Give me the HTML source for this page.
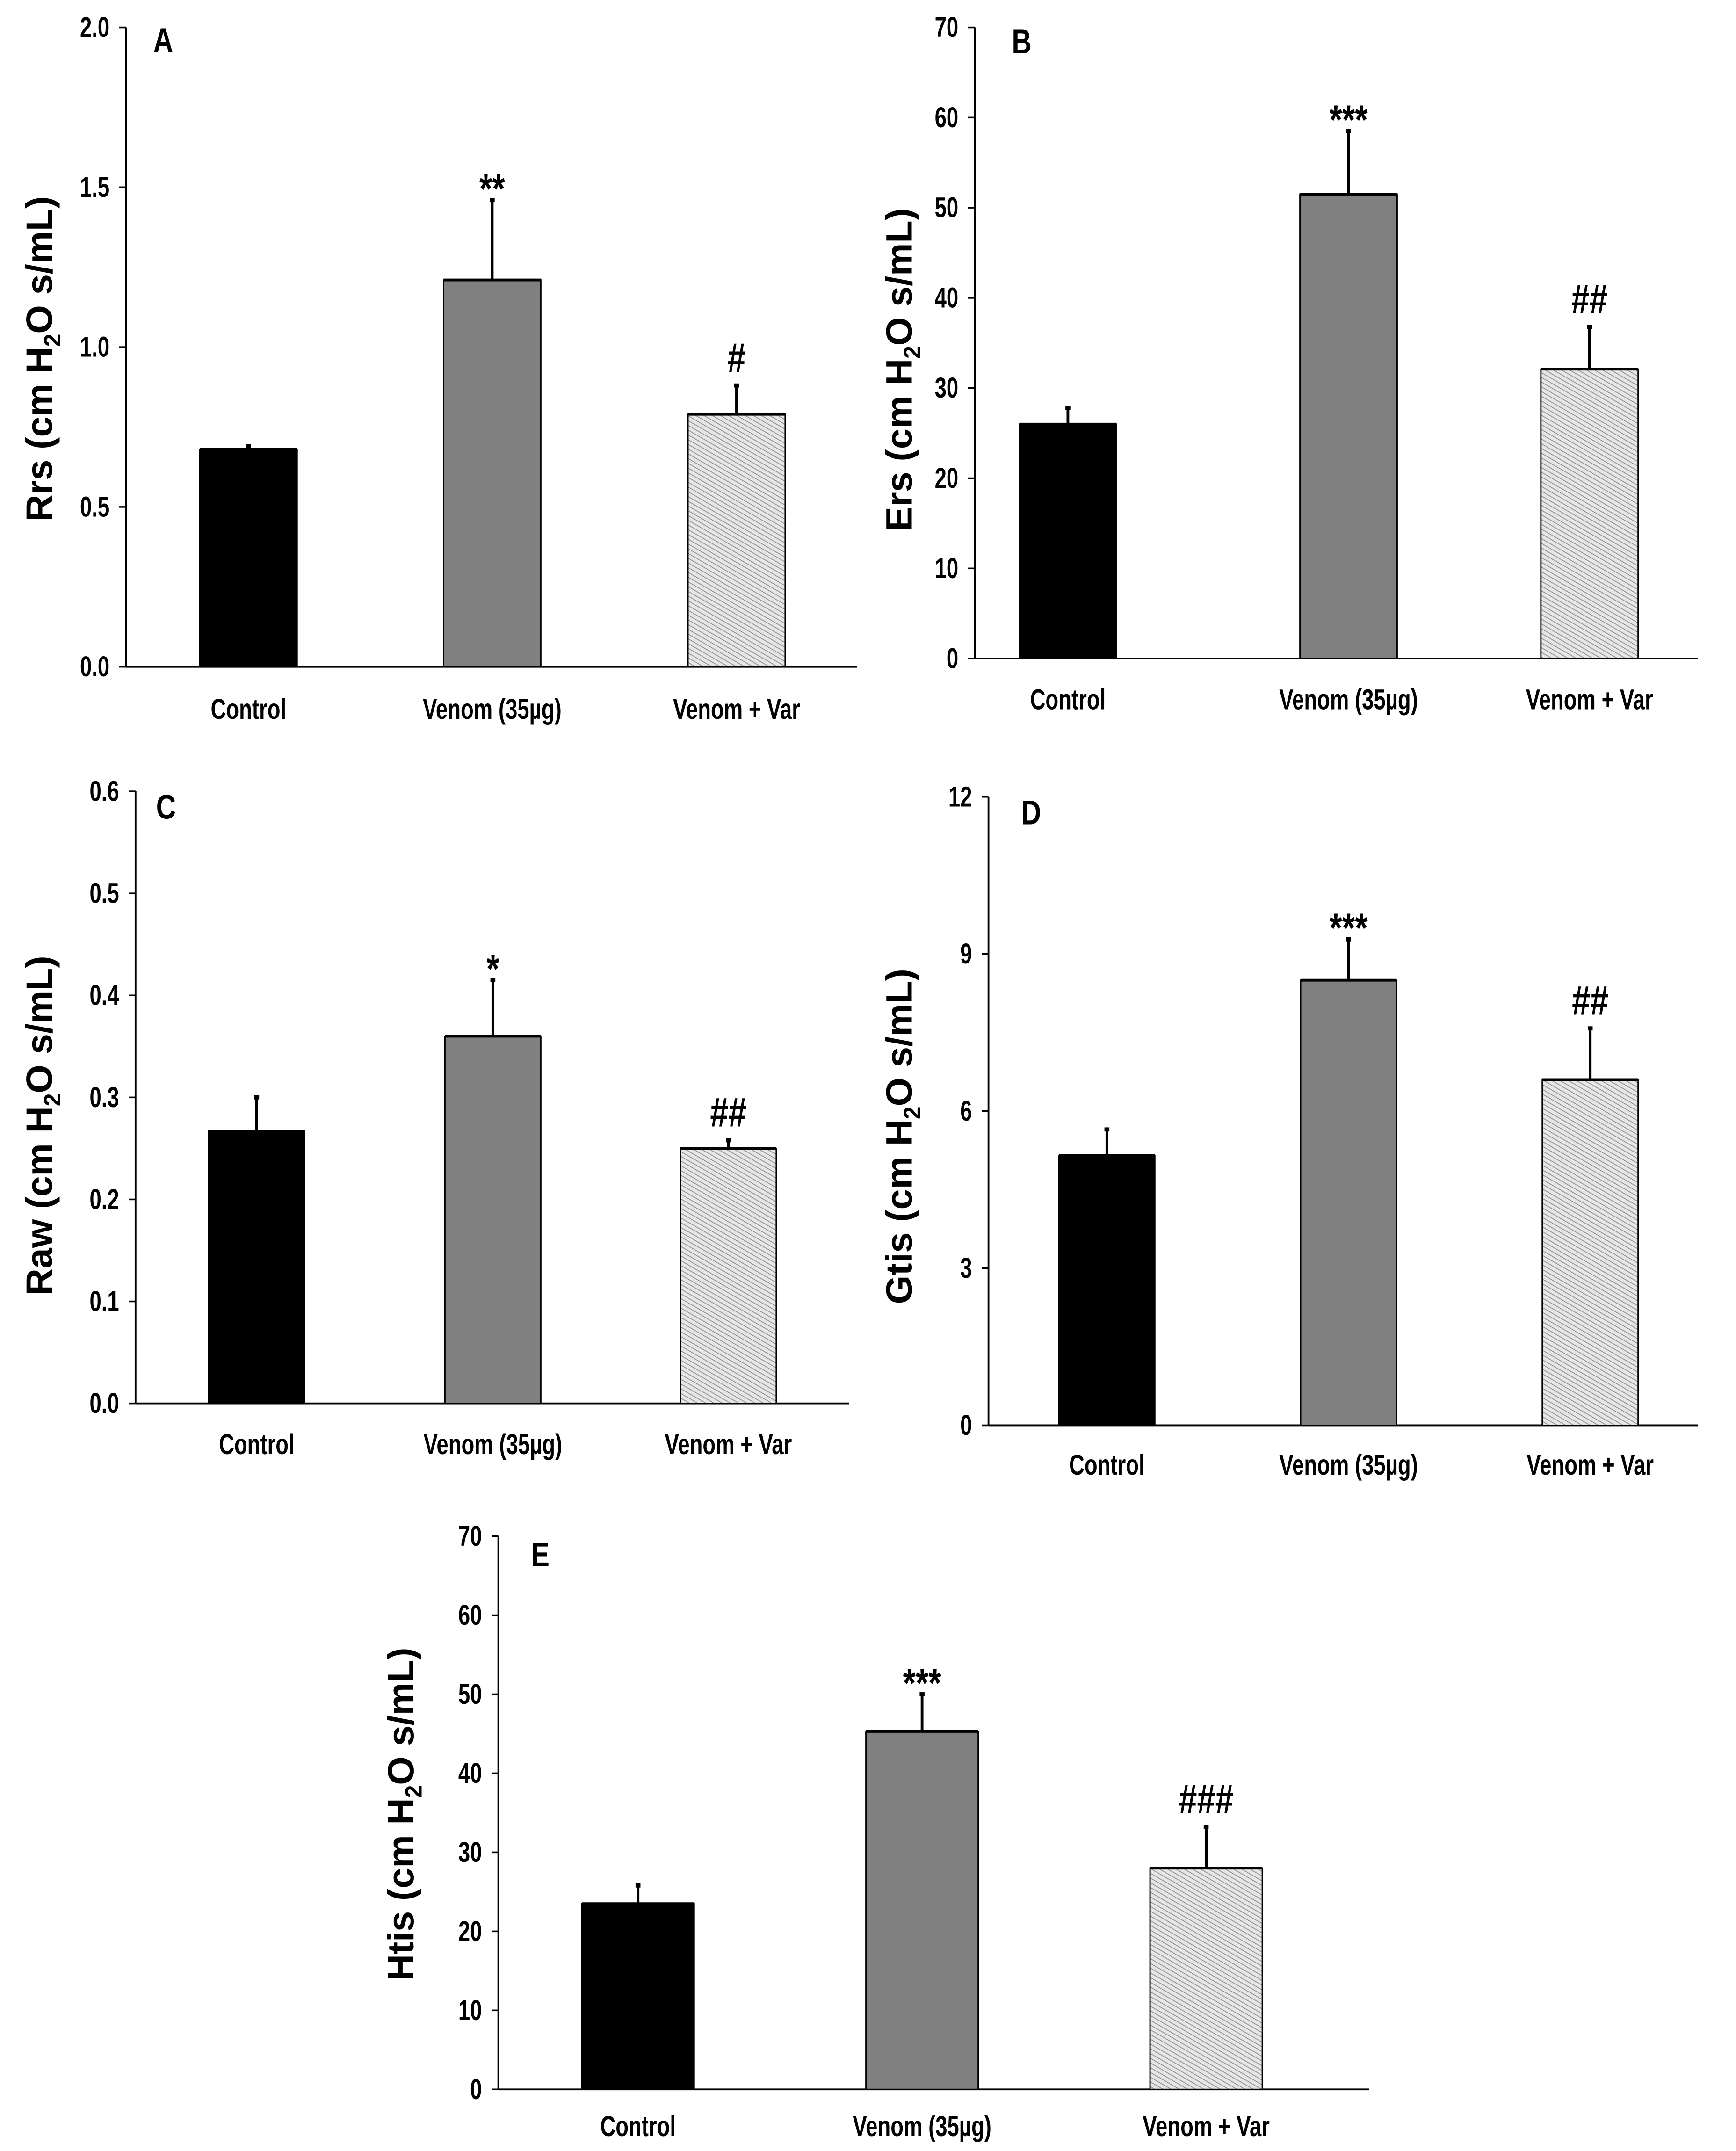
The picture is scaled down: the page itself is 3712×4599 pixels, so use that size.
<!DOCTYPE html>
<html><head><meta charset="utf-8">
<style>
html,body{margin:0;padding:0;background:#fff;}
svg{display:block;}
.tk{font-family:"Liberation Sans",sans-serif;font-weight:bold;font-size:21px;fill:#000;}
.yl{font-family:"Liberation Sans",sans-serif;font-weight:bold;font-size:27px;fill:#000;}
.pl{font-family:"Liberation Sans",sans-serif;font-weight:bold;font-size:25px;fill:#000;}
.sig{font-family:"Liberation Sans",sans-serif;font-weight:bold;font-size:30px;fill:#000;}
</style></head>
<body>
<svg id="fig" width="3712" height="4599" viewBox="0 0 1268 1571" xmlns="http://www.w3.org/2000/svg">
<defs>
<pattern id="hatch" patternUnits="userSpaceOnUse" width="3" height="3" patternTransform="rotate(-60)">
<rect width="3" height="3" fill="#e6e6e6"/>
<line x1="0" y1="0" x2="0" y2="3" stroke="#8a8a8a" stroke-width="1.1"/>
</pattern>
</defs>
</svg>
<script>
const categories = ["Control", "Venom (35µg)", "Venom + Var"];
const valuesA = [0.68, 1.21, 0.79];
const errorsA = [0.01, 0.25, 0.09];
const sigA = ["", "**", "#"];
const ticksA = ["0.0", "0.5", "1.0", "1.5", "2.0"];
const valuesB = [26, 51.5, 32.1];
const errorsB = [1.8, 7, 4.7];
const sigB = ["", "***", "##"];
const ticksB = ["0", "10", "20", "30", "40", "50", "60", "70"];
const valuesC = [0.267, 0.36, 0.25];
const errorsC = [0.033, 0.055, 0.008];
const sigC = ["", "*", "##"];
const ticksC = ["0.0", "0.1", "0.2", "0.3", "0.4", "0.5", "0.6"];
const valuesD = [5.15, 8.5, 6.6];
const errorsD = [0.5, 0.78, 0.98];
const sigD = ["", "***", "##"];
const ticksD = ["0", "3", "6", "9", "12"];
const valuesE = [23.5, 45.3, 28];
const errorsE = [2.3, 4.7, 5.2];
const sigE = ["", "***", "###"];
const ticksE = ["0", "10", "20", "30", "40", "50", "60", "70"];

const NS = "http://www.w3.org/2000/svg";
const svg = document.getElementById("fig");
function mk(tag, attrs, parent, text){
  const e = document.createElementNS(NS, tag);
  for (const k in attrs) e.setAttribute(k, attrs[k]);
  if (text !== undefined) e.textContent = text;
  (parent || svg).appendChild(e);
  return e;
}
function ctext(x, y, anchor, cls, txt, parent, sx){
  return mk("text", {x:0, y:0, "text-anchor":anchor, class:cls, transform:`translate(${x},${y}) scale(${sx||0.74},1)`}, parent, txt);
}
const fills = ["#000000", "#808080", "url(#hatch)"];

function panel(cfg, values, errors, sigs, ticks){
  const g = mk("g", {});
  
  
  const tmin = parseFloat(ticks[0]), tmax = parseFloat(ticks[ticks.length-1]);
  const y = v => cfg.y0 - (v - tmin) / (tmax - tmin) * (cfg.y0 - cfg.y1);
  const ya = mk("line", {x1:cfg.ax, y1:cfg.y1, x2:cfg.ax, y2:cfg.y0, stroke:"#000", "stroke-width":1.3}, g);
  
  
  const xa = mk("line", {x1:cfg.ax, y1:cfg.y0, x2:cfg.xend, y2:cfg.y0, stroke:"#000", "stroke-width":1.3}, g);
  
  
  ticks.forEach(t => {
    const yy = y(parseFloat(t));
    mk("line", {x1:cfg.ax-5, y1:yy, x2:cfg.ax, y2:yy, stroke:"#000", "stroke-width":1.2}, g);
    const tl = ctext(cfg.ax-12, yy+7, "end", "tk", t, g);
    
    
  });
  values.forEach((v, i) => {
    const cx = cfg.cx[i], w = cfg.bw;
    const top = y(v), etop = y(v + errors[i]);
    const er = mk("line", {x1:cx, y1:top, x2:cx, y2:etop, stroke:"#000", "stroke-width":2}, g);
    
    
    mk("rect", {x:cx-1.8, y:etop-1.5, width:3.6, height:3, fill:"#000"}, g);
    const r = mk("rect", {x:cx-w/2, y:top, width:w, height:cfg.y0-top, fill:fills[i], stroke:"#000", "stroke-width":1}, g);
    
    
    mk("line", {x1:cx-w/2, y1:top, x2:cx+w/2, y2:top, stroke:"#000", "stroke-width":2}, g);
    if (sigs[i]) {
      const isStar = sigs[i].indexOf("*") >= 0;
      const s = ctext(cx, isStar ? etop+2 : etop-10, "middle", "sig", sigs[i], g, 0.8);
      
      
    }
    const cl = ctext(cx, cfg.labY, "middle", "tk", categories[i], g);
    
    
  });
  const pl = ctext(cfg.px, cfg.py, "start", "pl", cfg.id, g, 0.8);
  
  
  const yl = mk("text", {x:0, y:0, "text-anchor":"middle", class:"yl", transform:`translate(${cfg.ylx},${cfg.yly}) rotate(-90)`}, g);
  
  
  mk("tspan", {}, yl, cfg.yname + "  (cm H");
  mk("tspan", {"font-size":"17", dy:"6"}, yl, "2");
  mk("tspan", {dy:"-6"}, yl, "O s/mL)");
}

panel({id:"A", ax:92, y0:487, y1:20, xend:626, cx:[181.5,359.5,538], bw:71, labY:525, px:112, py:38, ylx:38, yly:262, yname:"Rrs"}, valuesA, errorsA, sigA, ticksA);
panel({id:"B", ax:712, y0:481, y1:20, xend:1240, cx:[780,985,1161], bw:71, labY:518, px:739, py:39, ylx:666, yly:270, yname:"Ers"}, valuesB, errorsB, sigB, ticksB);
panel({id:"C", ax:99, y0:1025, y1:578, xend:620, cx:[187.5,360,532], bw:70, labY:1062, px:114, py:598, ylx:38, yly:822, yname:"Raw"}, valuesC, errorsC, sigC, ticksC);
panel({id:"D", ax:722, y0:1041, y1:582, xend:1240, cx:[808.5,985,1161.5], bw:70, labY:1077, px:746, py:602, ylx:666, yly:830, yname:"Gtis"}, valuesD, errorsD, sigD, ticksD);
panel({id:"E", ax:364, y0:1526, y1:1122, xend:1000, cx:[466,673.5,881], bw:82, labY:1560, px:388, py:1144, ylx:302, yly:1325, yname:"Htis"}, valuesE, errorsE, sigE, ticksE);
</script>
</body></html>
